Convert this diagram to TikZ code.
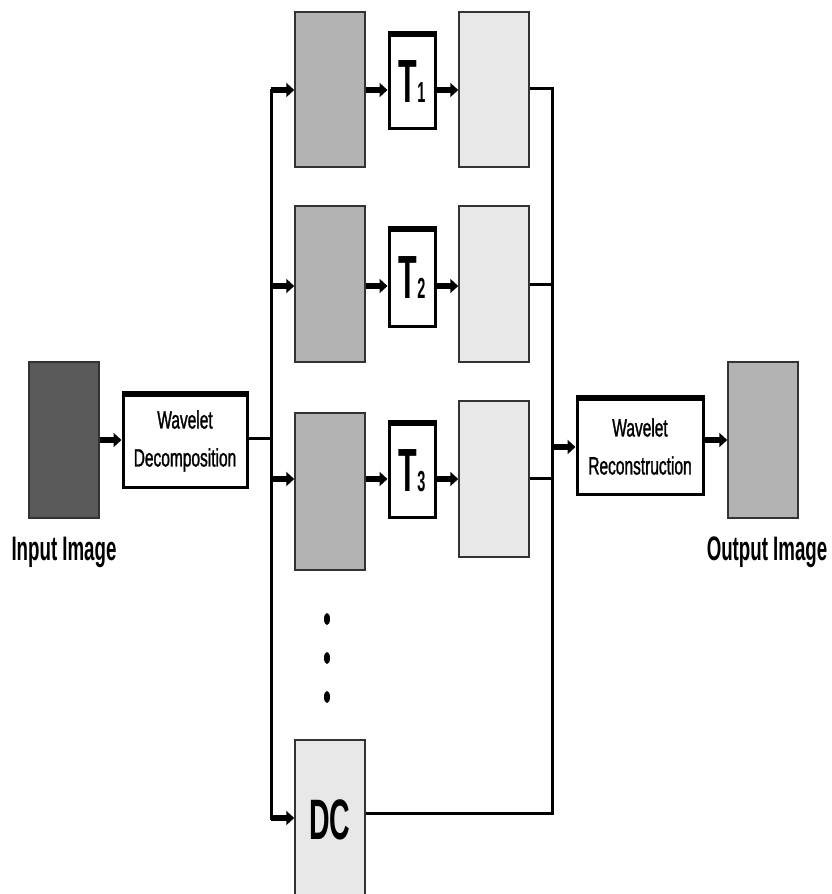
\documentclass[tikz,border=0pt]{standalone}
\usepackage{fontspec}
\setmainfont{Liberation Sans}
\newfontfamily\condreg[FakeStretch=0.62,FakeBold=1.2]{Liberation Sans}
\newfontfamily\condbold[FakeStretch=0.55]{Liberation Sans Bold}
\newfontfamily\condboldT[FakeStretch=0.5]{Liberation Sans Bold}
\usetikzlibrary{arrows.meta}
\definecolor{darkimg}{HTML}{595959}
\definecolor{midgray}{HTML}{B3B3B3}
\definecolor{lightgray}{HTML}{E8E8E8}
\tikzset{
  imgbox/.style={draw=black!80, line width=1.5pt, inner sep=0pt, minimum width=70pt},
  procbox/.style={draw=black, line width=3pt, fill=white, inner sep=0pt},
  bigarrow/.style={line width=6pt, -{Triangle[length=8pt,width=14pt]}},
  wire/.style={line width=3pt},
  lbl/.style={font=\condbold\fontsize{34}{34}\selectfont, inner sep=0pt},
  wtext/.style={font=\condreg\fontsize{25}{38}\selectfont, align=center},
  ttext/.style={font=\condboldT\fontsize{61}{61}\selectfont},
  topedge/.style={line width=5pt},
}
\newcommand{\Tsub}[1]{T{\fontsize{29}{29}\selectfont #1}}
\begin{document}
\begin{tikzpicture}[x=1pt,y=-1pt]
\useasboundingbox (0,0) rectangle (831,894);
\clip (0,0) rectangle (831,894);
% input / output images
\node[imgbox, fill=darkimg, minimum height=156pt] (in) at (64,440) {};
\node[lbl] (inlbl) at (64,552) {Input Image};
\node[imgbox, fill=midgray, minimum height=156pt] (out) at (763,440) {};
\node[lbl] (outlbl) at (767,552) {Output Image};
% wavelet boxes
\node[procbox, minimum width=124pt, minimum height=92pt, wtext] (dec) at (185,441) {Wavelet\\Decomposition};
\node[procbox, minimum width=126pt, minimum height=95pt, wtext] (rec) at (640,446.5) {Wavelet\\Reconstruction};
% row 1
\node[imgbox, fill=midgray, minimum height=155pt] (g1) at (330,89.5) {};
\node[procbox, minimum width=46pt, minimum height=93pt, ttext] (t1) at (412,81.5) {\Tsub{1}};
\node[imgbox, fill=lightgray, minimum height=155pt] (l1) at (494,89.5) {};
% row 2
\node[imgbox, fill=midgray, minimum height=156pt] (g2) at (330,284) {};
\node[procbox, minimum width=46pt, minimum height=96pt, ttext] (t2) at (412,278) {\Tsub{2}};
\node[imgbox, fill=lightgray, minimum height=156pt] (l2) at (494,284) {};
% row 3
\node[imgbox, fill=midgray, minimum height=157pt] (g3) at (330,491.5) {};
\node[procbox, minimum width=46pt, minimum height=93pt, ttext] (t3) at (412,470.5) {\Tsub{3}};
\node[imgbox, fill=lightgray, minimum height=156pt] (l3) at (494,479) {};
% thicker top edges of process boxes
\foreach \b in {dec,rec,t1,t2,t3}
  \draw[topedge] (\b.north west) -- (\b.north east);
% DC
\node[imgbox, fill=lightgray, minimum height=160pt, font=\condboldT\fontsize{57}{57}\selectfont] (dc) at (330,820) {DC};
% dots
\foreach \yy/\nm in {619/d1,658/d2,697/d3}
  \fill (327,\yy) ellipse (3pt and 6pt) coordinate (\nm);
% bus coordinates
\coordinate (lbt) at (271,90);
\coordinate (lbb) at (271,818);
\coordinate (rbt) at (552,88);
\coordinate (rbb) at (552,813);
\coordinate (a1) at (271,90);
\coordinate (a2) at (271,286);
\coordinate (a3) at (271,479);
\coordinate (a4) at (271,818);
\coordinate (r1) at (552,88);
\coordinate (r2) at (552,284);
\coordinate (r3) at (552,478);
\coordinate (r4) at (552,813);
\coordinate (rin) at (552,447);
% wires
\draw[wire, line cap=rect] (lbt) -- (lbb);
\draw[wire, line cap=rect] (rbt) -- (rbb);
\draw[wire] (dec.east |- 0,438) -- (271,438);
\draw[bigarrow] (in.east) -- (in.east -| dec.west);
\draw[bigarrow] (rec.east |- out.west) -- (out.west);
\draw[bigarrow] (rin) -- (rin -| rec.west);
% rows
\draw[bigarrow] (a1) -- (a1 -| g1.west);
\draw[bigarrow] (g1.east |- a1) -- (t1.west |- a1);
\draw[bigarrow] (t1.east |- a1) -- (l1.west |- a1);
\draw[wire] (l1.east |- r1) -- (r1);
\draw[bigarrow] (a2) -- (a2 -| g2.west);
\draw[bigarrow] (g2.east |- a2) -- (t2.west |- a2);
\draw[bigarrow] (t2.east |- a2) -- (l2.west |- a2);
\draw[wire] (l2.east |- r2) -- (r2);
\draw[bigarrow] (a3) -- (a3 -| g3.west);
\draw[bigarrow] (g3.east |- a3) -- (t3.west |- a3);
\draw[bigarrow] (t3.east |- a3) -- (l3.west |- a3);
\draw[wire] (l3.east |- r3) -- (r3);
\draw[bigarrow] (a4) -- (a4 -| dc.west);
\draw[wire] (dc.east |- r4) -- (r4);
\end{tikzpicture}
\end{document}
